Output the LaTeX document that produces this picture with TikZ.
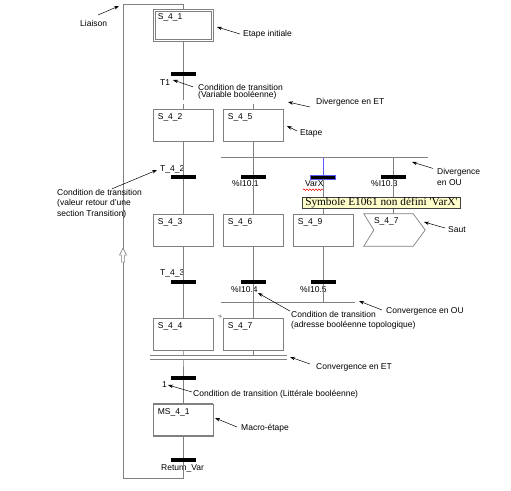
\documentclass[tikz,border=0pt]{standalone}
\usepackage{fontspec}
\setmainfont{Liberation Sans}
\newfontfamily\bullefont{Liberation Serif}
\usetikzlibrary{arrows.meta,decorations.pathmorphing,decorations.markings}
\definecolor{gristrait}{RGB}{128,128,128}
\definecolor{jaunebulle}{RGB}{255,255,204}
\definecolor{selbleu}{RGB}{90,90,255}
\begin{document}
\begin{tikzpicture}[
    x=1pt, y=-1pt,
    >={Stealth[length=5pt,width=3.5pt]},
    font=\fontsize{8.5}{10.5}\selectfont,
    trait/.style={draw=gristrait, line width=0.7pt},
    etape/.style={rectangle, draw=gristrait, line width=0.7pt, minimum width=60pt,
      minimum height=32pt, inner sep=0pt,
      label={[anchor=north west, inner sep=0pt, xshift=5pt, yshift=-4.5pt]north west:#1}},
    sautbox/.style={rectangle, minimum width=61pt, minimum height=32pt, inner sep=0pt,
      label={[anchor=north west, inner sep=0pt, xshift=10pt, yshift=-4pt]north west:#1}},
    barre/.style={rectangle, fill=black, minimum width=25pt, minimum height=4pt, inner sep=0pt},
    txt/.style={anchor=west, inner sep=0pt, align=left},
    note/.style={->, line width=0.5pt},
    jonction/.style={draw=gristrait, line width=0.7pt, double, double distance=3.3pt},
    bulle/.style={draw=black!75, fill=jaunebulle, line width=0.5pt, inner xsep=3pt,
      inner ysep=0.5pt, minimum height=11pt, font=\bullefont\fontsize{11.3}{12}\selectfont}
]
  \useasboundingbox (0,0) rectangle (511,490);

  %--- steps ---
  \node[etape=S\_4\_1] (S41) at (183,25.5) {};
  \draw[trait] ([xshift=2.5pt,yshift=-2.5pt]S41.north west) rectangle ([xshift=-2.5pt,yshift=2.5pt]S41.south east);
  \node[etape=S\_4\_2] (S42) at (183,125) {};
  \node[etape=S\_4\_5] (S45) at (253,125) {};
  \node[etape=S\_4\_3] (S43) at (183,230) {};
  \node[etape=S\_4\_6] (S46) at (253,230) {};
  \node[etape=S\_4\_9] (S49) at (323,230) {};
  \node[sautbox=S\_4\_7] (S47s) at (394.5,230) {};
  \node[etape=S\_4\_4] (S44) at (183,334.5) {};
  \node[etape=S\_4\_7] (S47) at (253,334.5) {};
  \node[etape=MS\_4\_1] (MS41) at (183,420) {};
  \draw[gristrait, line width=2pt] (MS41.north west) -- (MS41.north east);
  \draw[gristrait, line width=2pt] (MS41.south west) -- (MS41.south east);
  \draw[trait] (S47s.north west) -- ([xshift=-12pt]S47s.north east) -- (S47s.east)
    -- ([xshift=-12pt]S47s.south east) -- (S47s.south west) -- ([xshift=10pt]S47s.west) -- cycle;

  %--- transitions ---
  \node[barre] (T1)   at (183,74)  {};
  \node[barre] (T42)  at (183,177) {};
  \node[barre] (I101) at (253,177) {};
  \node[barre, draw=selbleu, line width=0.6pt] (VarX) at (323,177) {};
  \node[barre] (I103) at (393,177) {};
  \node[barre] (T43)  at (183,282) {};
  \node[barre] (I104) at (253,282) {};
  \node[barre] (I105) at (323,282) {};
  \node[barre] (L1)   at (183,378) {};
  \node[barre] (RetVar) at (183,460) {};

  \node[txt] (lT1)   at (160,83)  {T1};
  \node[txt] (lT42)  at (160,169) {T\_4\_2};
  \node[txt] (lI101) at (232,184) {\%I10.1};
  \node[txt] (lVarX) at (305,184) {VarX};
  \node[txt] (lI103) at (371,184) {\%I10.3};
  \node[txt] (lT43)  at (160,273) {T\_4\_3};
  \node[txt] (lI104) at (231,290) {\%I10.4};
  \node[txt] (lI105) at (300,290) {\%I10.5};
  \node[txt] (lL1)   at (162,385) {1};
  \node[txt] (lRet)  at (161,468) {Return\_Var};
  \draw[red, line width=0.5pt, decorate, decoration={snake, amplitude=0.8pt, segment length=3pt}]
    ([xshift=-2pt,yshift=-2.5pt]lVarX.south west) -- ([yshift=-2.5pt]lVarX.south east);

  %--- junction lines ---
  \coordinate (divETg)  at (150,102);   \coordinate (divETd)  at (287,102);
  \coordinate (divOUg)  at (221,157);   \coordinate (divOUd)  at (428,157);
  \coordinate (convOUg) at (221,302);   \coordinate (convOUd) at (355,302);
  \coordinate (convETg) at (150,357.5); \coordinate (convETd) at (287,357.5);
  \coordinate (lienHaut) at (123,4);    \coordinate (lienBas) at (123,478);

  %--- links ---
  \draw[trait] (S41) -- (T1) -- (T1 |- divETg);
  \draw[trait] (S42 |- divETg) -- (S42) -- (T42) -- (S43) -- (T43) -- (S44) -- (S44 |- convETg)
    -- (L1) -- (MS41) -- (RetVar) -- (RetVar |- lienBas) -- (lienBas);
  \draw[trait, postaction={decorate}, decoration={markings, mark=at position 0.485 with
    {\draw[gristrait, fill=white, line width=0.6pt] (0,0) -- (-7,3.5) -- (-7,1.6) -- (-14,1.6)
      -- (-14,-1.6) -- (-7,-1.6) -- (-7,-3.5) -- cycle;}}] (lienBas) -- (lienHaut);
  \draw[trait] (lienHaut) -- (lienHaut -| S41) -- (S41);
  \draw[trait] (S45 |- divETg) -- (S45) -- (I101) -- (S46) -- (I104) -- (S47) -- (S47 |- convETg);
  \draw[trait, draw=selbleu] (VarX |- divOUg) -- (VarX);
  \draw[trait] (VarX) -- (S49) -- (I105) -- (I105 |- convOUg);
  \draw[trait] (I103 |- divOUg) -- (I103) -- (I103 |- S47s.north);
  \draw[trait] (divOUg) -- (divOUd);
  \draw[trait] (convOUg) -- (convOUd);
  \draw[jonction] (divETg) -- (divETd);
  \draw[jonction] (convETg) -- (convETd);
  \coordinate (renvoi) at (218,315);
  \draw[gristrait, line width=0.5pt, -{Straight Barb[length=2pt,width=3pt]}] (renvoi)
    -- ([xshift=-1pt,yshift=1pt]S47.north west);

  %--- error tooltip ---
  \node[bulle, anchor=north west] (bulleVarX) at (302,197) {Symbole E1061 non défini 'VarX'};

  %--- comments ---
  \node[txt] (nLiaison) at (80,23)  {Liaison};
  \node[txt] (nInit)    at (243,34) {Etape initiale};
  \node[txt, font=\fontsize{8.5}{7}\selectfont] (nCond1) at (198,91.5)
    {Condition de transition\\(Variable booléenne)};
  \node[txt] (nDivET)   at (316,102) {Divergence en ET};
  \node[txt] (nEtape)   at (300,133) {Etape};
  \node[txt] (nCond2)   at (57,203.5) {Condition de transition\\(valeur retour d'une\\section Transition)};
  \node[txt] (nDivOU)   at (437,177) {Divergence\\en OU};
  \node[txt] (nSaut)    at (448,230) {Saut};
  \node[txt] (nConvOU)  at (386,311) {Convergence en OU};
  \node[txt] (nCond3)   at (291,320.5) {Condition de transition\\(adresse booléenne topologique)};
  \node[txt] (nConvET)  at (316,367) {Convergence en ET};
  \node[txt] (nCond4)   at (193,394) {Condition de transition (Littérale booléenne)};
  \node[txt] (nMacro)   at (241,428) {Macro-étape};

  \coordinate (pLiaison) at (119,6);
  \coordinate (pInit)    at (217,27);
  \coordinate (pCond1)   at (173,80);
  \coordinate (pDivET)   at (288,102);
  \coordinate (pEtape)   at (287,126);
  \coordinate (pCond2)   at (157,170);
  \coordinate (pDivOU)   at (412,162);
  \coordinate (pSaut)    at (424,222);
  \coordinate (pConvOU)  at (359,301);
  \coordinate (pCond3)   at (258,293);
  \coordinate (pConvET)  at (290,357);
  \coordinate (pCond4)   at (168,385);
  \coordinate (pMacro)   at (215,418);

  \draw[note] ([xshift=18pt,yshift=8pt]nLiaison.west) -- (pLiaison);
  \draw[note] ([xshift=-3pt]nInit.west) -- (pInit);
  \draw[note] ([xshift=-5pt,yshift=-3pt]nCond1.north west) -- (pCond1);
  \draw[note] ([xshift=-6pt,yshift=-5pt]nDivET.west) -- (pDivET);
  \draw[note] ([xshift=-3pt,yshift=2pt]nEtape.west) -- (pEtape);
  \draw[note] ([xshift=55pt]nCond2.north west) -- (pCond2);
  \draw[note] ([xshift=-4pt]nDivOU.north west) -- (pDivOU);
  \draw[note] ([xshift=-3pt,yshift=2pt]nSaut.west) -- (pSaut);
  \draw[note] ([xshift=-4pt,yshift=1pt]nConvOU.west) -- (pConvOU);
  \draw[note] ([xshift=-1pt]nCond3.north west) -- (pCond3);
  \draw[note] ([xshift=-6pt,yshift=3pt]nConvET.west) -- (pConvET);
  \draw[note] ([xshift=-1pt,yshift=2pt]nCond4.west) -- (pCond4);
  \draw[note] ([xshift=-4pt,yshift=1pt]nMacro.west) -- (pMacro);
\end{tikzpicture}
\end{document}
